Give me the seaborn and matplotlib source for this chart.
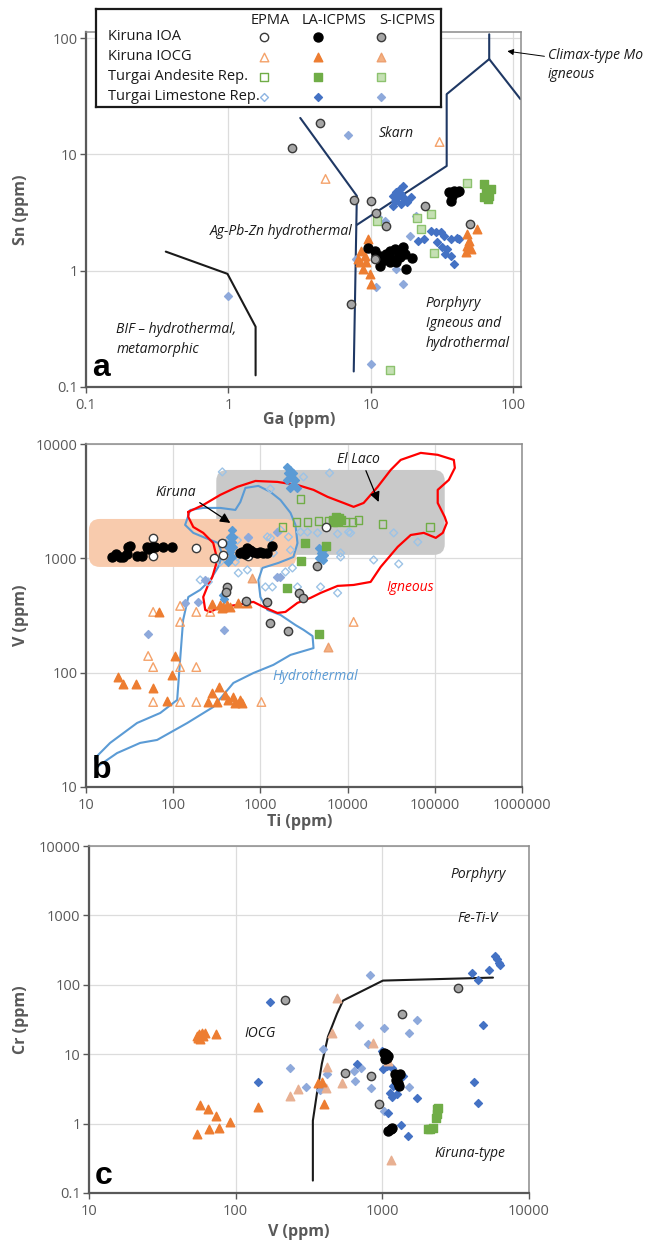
import numpy as np
import matplotlib
matplotlib.use("Agg")
import matplotlib.pyplot as plt
import seaborn as sns
from matplotlib.patches import FancyBboxPatch
from matplotlib.ticker import FixedLocator, FuncFormatter, NullLocator

sns.set_theme(style="white")
plt.rcParams['font.family'] = ['Open Sans', 'DejaVu Sans']

# ---------------- Panel a : Ga vs Sn ----------------
a_ioa_s_x = [2.8, 4.42, 7.57, 10.0, 10.8, 12.8, 23.8, 49.5, 10.7, 7.2]
a_ioa_s_y = [11.4, 18.6, 4.07, 3.99, 3.15, 2.43, 3.61, 2.53, 1.27, 0.52]
a_ioa_la_x = [9.53, 10.7, 11.6, 12.2, 12.8, 13.6, 14.8, 15.5, 16.9, 17.4, 16.1, 14.3, 13.6, 11.8, 11.6,
              17.7, 19.5, 15.0, 10.8, 35.2, 38.2, 41.4, 36.9, 36.2, 40.0]
a_ioa_la_y = [1.57, 1.49, 1.35, 1.27, 1.40, 1.49, 1.54, 1.49, 1.61, 1.40, 1.32, 1.27, 1.19, 1.19, 1.10,
              1.04, 1.29, 1.19, 1.35, 4.77, 4.86, 4.86, 4.40, 3.99, 4.77]
a_iocg_la_x = [9.53, 8.5, 9.06, 9.2, 8.77, 9.84, 10.0, 8.4, 8.09, 47.2, 48.7, 47.2, 50.4, 55.6, 46.4]
a_iocg_la_y = [1.88, 1.49, 1.35, 1.19, 1.04, 0.94, 0.77, 1.19, 1.27, 2.08, 1.81, 1.64, 1.54, 2.29, 1.46]
a_iocg_epma_x = [4.8, 30.3]
a_iocg_epma_y = [6.16, 12.8]
a_and_la_x = [62.3, 64.4, 65.9, 69.8, 67.3, 62.3]
a_and_la_y = [5.58, 4.86, 4.15, 5.06, 4.40, 4.32]
a_and_s_x = [47.2, 26.2, 21.2, 22.6, 27.5, 11.0, 13.6]
a_and_s_y = [5.69, 3.09, 2.85, 2.29, 1.43, 2.69, 0.141]
a_lim_la_x = [16.9, 16.1, 15.0, 14.3, 15.5, 16.3, 14.8, 17.4, 16.3, 14.3, 18.0, 19.2,
              26.2, 28.4, 30.8, 32.4, 36.3, 40.1, 28.9, 31.3, 34.0, 33.3, 36.3, 38.2, 23.4, 21.5, 41.4]
a_lim_la_y = [5.37, 5.06, 4.77, 4.40, 4.32, 4.58, 3.99, 4.15, 3.76, 3.61, 3.91, 4.32,
              2.20, 2.16, 2.16, 2.0, 1.88, 1.92, 1.77, 1.61, 1.54, 1.40, 1.35, 1.15, 1.88, 1.81, 1.88]
a_lim_s_x = [6.87, 11.2, 12.6, 20.8, 18.9, 15.0, 16.9, 10.8, 7.83, 1.0, 10.0]
a_lim_s_y = [14.7, 2.91, 2.69, 2.97, 2.0, 1.04, 0.77, 0.73, 1.27, 0.61, 0.159]

a_line1_x = [3.19, 7.96, 7.57]
a_line1_y = [20.6, 4.40, 0.136]
a_line2_x = [7.96, 34.0, 34.0, 67.6, 67.6]
a_line2_y = [2.48, 7.96, 33.0, 66.1, 108]
a_line3_x = [67.6, 112]
a_line3_y = [66.1, 29.9]
a_bif_x = [0.363, 0.984, 1.55, 1.55]
a_bif_y = [1.46, 0.94, 0.33, 0.126]

# ---------------- Panel b : Ti vs V ----------------
b_ioa_la_x = [19.9, 22.1, 24.6, 26.6, 29.6, 30.4, 32.1, 38.5, 44.0, 50.2, 51.6, 57.4, 62.1, 76.7, 97.4,
              589, 621, 673, 709, 767, 831, 924, 1000, 1082, 1202, 1371]
b_ioa_la_y = [1028, 1091, 1028, 1028, 1091, 1260, 1283, 1049, 1049, 1260, 1207, 1260, 1260, 1260, 1260,
              1115, 1137, 1091, 1233, 1183, 1137, 1115, 1137, 1115, 1115, 1283]
b_ioa_epma_x = [58.9, 58.9, 58.9, 184, 296, 366, 376, 728, 5580]
b_ioa_epma_y = [1507, 1049, 1283, 1233, 1007, 1360, 1072, 1049, 1883]
b_ioa_s_x = [418, 407, 690, 1202, 1303, 2099, 2735, 3119, 4403]
b_ioa_s_y = [562, 508, 424, 416, 272, 232, 498, 451, 859]
b_iocg_la_x = [23.3, 26.6, 37.6, 58.9, 85.3, 105, 97.4, 281, 338, 253, 321, 396, 429, 490, 516, 589, 621,
               69, 347, 376, 418, 452, 558, 709, 281, 366]
b_iocg_la_y = [91.7, 79.6, 79.6, 73.5, 56.5, 140, 95.5, 66.4, 75.0, 55.4, 55.4, 63.8, 57.7, 61.2, 54.3, 57.7, 54.3,
               340, 391, 376, 391, 376, 408, 408, 399, 368]
b_iocg_epma_x = [58.9, 51.6, 58.9, 58.9, 120, 120, 120, 120, 184, 184, 184, 1026, 266, 11720]
b_iocg_epma_y = [340, 140, 112, 55.4, 384, 278, 112, 55.4, 340, 112, 55.4, 55.4, 340, 278]
b_iocg_s_x = [800, 5891]
b_iocg_s_y = [674, 167]
b_and_la_x = [6730, 7280, 7870, 6890, 7600, 8318, 4650, 2042, 3205, 2958, 5580]
b_and_la_y = [2168, 2300, 2254, 2080, 2080, 2168, 218, 551, 1360, 948, 1283]
b_and_epma_x = [2884, 2594, 3467, 4650, 9480, 11400, 13370, 1790, 25230, 87700, 6050]
b_and_epma_y = [3311, 2080, 2080, 2122, 2080, 2080, 2168, 1883, 2000, 1883, 2122]
b_lim_la_x = [477, 452, 477, 429, 490, 452, 477, 429, 452, 396, 490,
              2042, 2213, 2099, 2393, 2330, 2523, 2042, 2393, 2213, 2663,
              4650, 5160, 4895, 5300, 4650, 5160, 385, 376]
b_lim_la_y = [1773, 1540, 1390, 1260, 1260, 1137, 1028, 931, 1360, 1360, 1540,
              6310, 5930, 5580, 5580, 5050, 4850, 4850, 4380, 4130, 4130,
              1233, 1183, 1115, 1072, 1007, 968, 442, 479]
b_lim_s_x = [51.6, 385, 137, 194, 233, 728, 1530, 1567, 1698]
b_lim_s_y = [218, 237, 408, 416, 647, 1540, 1700, 688, 688]
b_lim_epma_x = [366, 3119, 6210, 1303, 728, 1303, 1698, 2099, 2884, 3467, 4520, 7680, 10260, 638, 1410,
                2213, 558, 709, 1141, 1371, 2663, 4895, 7680, 8318, 516, 347, 253, 10820, 19900, 33800,
                63800, 38550, 8318, 1938, 2330, 544, 544, 1202, 204]
b_lim_epma_y = [5700, 5150, 5580, 4050, 1507, 1507, 1773, 1540, 1700, 1700, 1670, 1637, 1700, 1137, 1115,
                1183, 745, 792, 562, 562, 562, 562, 498, 1028, 931, 931, 622, 1670, 968, 1670,
                1390, 893, 1115, 760, 824, 1028, 1440, 1540, 647]

b_ign_x = [149, 221, 347, 544, 877, 1567, 2663, 4067, 5891, 9000, 11720, 15270, 22130, 31200, 40650,
           69000, 108000, 165300, 169800, 144800, 108000, 108000, 130000, 137300, 123500, 102600, 74800,
           53000, 37560, 23950, 18370, 11720, 7679, 4895, 3758, 2663, 1938, 1567, 1082, 831, 544, 347,
           266, 233, 221, 246, 281, 321, 288, 221, 170, 149]
b_ign_y = [2550, 2930, 3590, 4220, 4750, 4660, 4380, 3970, 3450, 3050, 2820, 3050, 4220, 5930, 7260,
           8360, 8040, 7260, 6180, 4850, 3970, 3050, 2300, 2040, 1670, 1510, 1670,
           1600, 1260, 841, 622, 585, 574, 498, 451, 408, 340, 333, 376, 416, 391, 376,
           340, 354, 459, 562, 688, 968, 1360, 1670, 1880, 2300]
b_hyd_x = [12.7, 18.9, 38.5, 71, 111, 120, 130, 149, 204, 266, 329, 366, 329, 233, 170, 137, 157, 221, 347,
           516, 589, 673, 948, 1303, 1698, 2213, 2523, 2663, 2393, 1610, 1054, 948, 1000, 1202, 1698, 2523,
           3119, 3963, 4067, 2213, 1409, 831, 490, 288, 145, 65.4, 41.8, 22.7, 13.4]
b_hyd_y = [17.9, 24.3, 36.3, 44.4, 57.7, 129, 289, 459, 530, 647, 841, 1072, 1360, 1510, 1670, 1960, 2650,
           2760, 2760, 2650, 3110, 4130, 4300, 3810, 3240, 2500, 1960, 1360, 1028, 912, 824, 647, 459, 354,
           320, 261, 237, 209, 164, 143, 117, 99.3, 81.3, 50.1, 36.3, 25.8, 24.3, 19.8, 15.0]
b_box_kiruna_x = [10.8, 2590]
b_box_kiruna_y = [841, 2210]
b_box_laco_x = [312, 130000]
b_box_laco_y = [1072, 5930]

# ---------------- Panel c : V vs Cr ----------------
c_iocg_la_x = [54.5, 56.2, 58.9, 61.8, 57.1, 55.3, 59.8, 73.4, 57.1, 64.7, 73.4, 91.4, 76.9, 65.8, 54.5,
               142, 400, 364, 387]
c_iocg_la_y = [18.5, 19.8, 20.5, 20.5, 16.8, 17.3, 18.5, 19.8, 1.88, 1.64, 1.30, 1.07, 0.875, 0.847, 0.718,
               1.76, 1.94, 3.90, 4.03]
c_iocg_s_x = [491, 453, 863, 419, 530, 413, 266, 235, 1146, 1092]
c_iocg_s_y = [65.4, 20.5, 14.7, 6.63, 3.90, 3.30, 3.19, 2.53, 0.303, 8.09]
c_ioa_la_x = [1026, 1059, 1075, 1092, 1042, 1219, 1259, 1277, 1297, 1239, 1318, 1092, 1146, 1162]
c_ioa_la_y = [10.5, 10.2, 8.93, 9.55, 8.64, 5.25, 4.60, 3.90, 3.53, 4.31, 5.25, 0.793, 0.847, 0.875]
c_ioa_s_x = [217, 1361, 556, 835, 948, 3273]
c_ioa_s_y = [61.2, 38.5, 5.43, 4.92, 1.94, 91.2]
c_and_la_x = [2355, 2355, 2317, 2213, 2110, 2046, 2393]
c_and_la_y = [1.64, 1.39, 1.22, 0.875, 0.847, 0.847, 1.70]
c_lim_la_x = [171, 142, 4080, 4490, 5330, 5860, 6040, 6240, 6340, 4850, 4210, 4490, 993, 1009, 1075, 1162,
              1127, 1162, 1259, 1340, 1496, 1722, 1092, 1381, 1277, 1180, 671]
c_lim_la_y = [57.3, 4.03, 150, 119, 166, 264, 239, 209, 196, 26.7, 4.03, 2.01, 11.3, 6.21, 6.85, 6.41,
              2.80, 2.45, 2.71, 0.968, 0.671, 2.37, 1.44, 4.92, 4.92, 3.53, 7.32]
c_lim_s_x = [823, 692, 1026, 1517, 1722, 798, 394, 714, 640, 650, 835, 1026, 1517, 419, 387, 234, 301, 376]
c_lim_s_y = [140, 26.7, 24.2, 20.5, 31.5, 14.2, 12.0, 6.41, 5.80, 4.17, 3.30, 1.54, 3.41, 5.25, 3.53, 6.41,
             3.41, 3.09]
c_line_x = [336, 336, 358, 387, 426, 491, 539, 1009, 5680]
c_line_y = [0.151, 1.10, 2.71, 7.32, 17.9, 38.5, 59.2, 115, 127]

# ---------------- legend text ----------------
legend_rows = ["Kiruna IOA", "Kiruna IOCG", "Turgai Andesite Rep.", "Turgai Limestone Rep."]
legend_cols = ["EPMA", "LA-ICPMS", "S-ICPMS"]

# ---------------- styles ----------------
ST = {
    ('ioa', 'epma'): dict(marker='o', fc='white', ec='#3a3a3a', s=36),
    ('ioa', 'la'): dict(marker='o', fc='black', ec='black', s=42),
    ('ioa', 's'): dict(marker='o', fc='#a6a6a6', ec='#3a3a3a', s=36),
    ('iocg', 'epma'): dict(marker='^', fc='none', ec='#F4A26A', s=38),
    ('iocg', 'la'): dict(marker='^', fc='#ED7D31', ec='#ED7D31', s=38),
    ('iocg', 's'): dict(marker='^', fc='#F4B183', ec='#EDA070', s=38),
    ('and', 'epma'): dict(marker='s', fc='none', ec='#70AD47', s=28),
    ('and', 'la'): dict(marker='s', fc='#70AD47', ec='#70AD47', s=28),
    ('and', 's'): dict(marker='s', fc='#C5E0B4', ec='#8DC26F', s=28),
    ('lim', 'epma'): dict(marker='D', fc='none', ec='#8DB4E2', s=16),
    ('lim', 'la'): dict(marker='D', fc='#4472C4', ec='#4472C4', s=16),
    ('lim', 's'): dict(marker='D', fc='#8EA9DB', ec='#8EA9DB', s=16),
}


def pts(ax, xs, ys, key, z=4, override=None):
    st = dict(ST[key])
    if override:
        st.update(override)
    sns.scatterplot(x=xs, y=ys, ax=ax, marker=st['marker'], color=st['ec'],
                    facecolor=st['fc'], edgecolor=st['ec'], s=st['s'],
                    linewidth=1.0, legend=False, zorder=z, clip_on=True)


W, H = 664, 1243
fig = plt.figure(figsize=(W / 100, H / 100), dpi=100)
fig.patch.set_facecolor('white')


def px_axes(l, t, r, b):
    return fig.add_axes([l / W, 1 - b / H, (r - l) / W, (b - t) / H])


GRAY = '#595959'


def fmt(v, _):
    s = ('%f' % v).rstrip('0').rstrip('.')
    return s


def style_axes(ax, xlim, ylim, xt, yt, xlabel, ylabel, xlc, ylc):
    ax.set_xscale('log')
    ax.set_yscale('log')
    ax.set_xlim(*xlim)
    ax.set_ylim(*ylim)
    ax.xaxis.set_major_locator(FixedLocator(xt))
    ax.yaxis.set_major_locator(FixedLocator(yt))
    ax.xaxis.set_minor_locator(NullLocator())
    ax.yaxis.set_minor_locator(NullLocator())
    ax.xaxis.set_major_formatter(FuncFormatter(fmt))
    ax.yaxis.set_major_formatter(FuncFormatter(fmt))
    ax.tick_params(axis='both', which='major', bottom=True, left=True, top=False, right=False,
                   direction='out', length=4, width=1, colors=GRAY, labelsize=10.5)
    ax.tick_params(axis='x', pad=4)
    ax.tick_params(axis='y', pad=2)
    ax.grid(True, which='major', color='#dcdcdc', lw=0.9)
    ax.set_axisbelow(True)
    for name, sp in ax.spines.items():
        sp.set_visible(True)
        if name in ('left', 'bottom'):
            sp.set_color(GRAY)
            sp.set_linewidth(1.6)
        else:
            sp.set_color('#8c8c8c')
            sp.set_linewidth(1.1)
    ax.set_xlabel(xlabel, fontsize=11.5, fontweight='bold', color=GRAY)
    ax.set_ylabel(ylabel, fontsize=11.5, fontweight='bold', color=GRAY)
    ax.xaxis.set_label_coords(*xlc)
    ax.yaxis.set_label_coords(*ylc)
    ax.xaxis.label.set_va('center')
    ax.yaxis.label.set_va('center')
    ax.set_facecolor('white')


ITAL = dict(style='italic', fontsize=10, color='#1a1a1a')
LETTER = dict(fontsize=23, fontweight='bold', family=['Liberation Sans', 'DejaVu Sans'], color='black')
ARROW = dict(arrowstyle='-|>', color='black', lw=0.9, mutation_scale=15, shrinkA=0, shrinkB=0)

# ================= Panel a =================
axa = px_axes(86, 32, 521, 387)
style_axes(axa, (0.1, 113), (0.1, 113), [0.1, 1, 10, 100], [0.1, 1, 10, 100],
           'Ga (ppm)', 'Sn (ppm)', (0.49, -0.093), (-0.149, 0.499))
axa.plot(a_line1_x, a_line1_y, color='#1F3864', lw=1.5, zorder=2)
axa.plot(a_line2_x, a_line2_y, color='#1F3864', lw=1.5, zorder=2)
axa.plot(a_line3_x, a_line3_y, color='#1F3864', lw=1.5, zorder=2)
axa.plot(a_bif_x, a_bif_y, color='#1a1a1a', lw=1.5, zorder=2)

pts(axa, a_lim_s_x, a_lim_s_y, ('lim', 's'))
pts(axa, a_lim_la_x, a_lim_la_y, ('lim', 'la'))
pts(axa, a_and_s_x, a_and_s_y, ('and', 's'))
pts(axa, a_and_la_x, a_and_la_y, ('and', 'la'))
pts(axa, a_iocg_epma_x, a_iocg_epma_y, ('iocg', 'epma'))
pts(axa, a_iocg_la_x, a_iocg_la_y, ('iocg', 'la'))
pts(axa, a_ioa_la_x, a_ioa_la_y, ('ioa', 'la'))
pts(axa, a_ioa_s_x, a_ioa_s_y, ('ioa', 's'))

axa.text(15.0, 15.0, 'Skarn', ha='center', va='center', **ITAL)
axa.text(7.45, 2.16, 'Ag-Pb-Zn hydrothermal', ha='right', va='center', **ITAL)
axa.text(24.2, 0.61, 'Porphyry\nIgneous and\nhydrothermal', ha='left', va='top', linespacing=1.45, **ITAL)
axa.text(0.163, 0.365, 'BIF \u2013 hydrothermal,\nmetamorphic', ha='left', va='top', linespacing=1.45, **ITAL)
axa.annotate('Climax-type Mo\nigneous', xy=(90.6, 77.3), xytext=(174, 58.7), ha='left', va='center',
             linespacing=1.3, annotation_clip=False,
             arrowprops=dict(ARROW, relpos=(0, 0.75), lw=0.7, mutation_scale=9), **ITAL)
axa.text(0.014, 0.01, 'a', transform=axa.transAxes, ha='left', va='bottom', **LETTER)

# legend box (figure overlay)
leg = px_axes(96, 9, 441, 107)
leg.set_xlim(96, 441)
leg.set_ylim(107, 9)
leg.set_xticks([])
leg.set_yticks([])
leg.set_facecolor('white')
for sp in leg.spines.values():
    sp.set_visible(True)
    sp.set_color('#1a1a1a')
    sp.set_linewidth(1.6)
col_hdr_x = [270, 334, 407]
col_mk_x = [264, 318, 381]
row_y = [37, 57, 77, 97]
groups = ['ioa', 'iocg', 'and', 'lim']
methods = ['epma', 'la', 's']
for cx, name in zip(col_hdr_x, legend_cols):
    leg.text(cx, 21, name, ha='center', va='center', fontsize=10.5, color='#1a1a1a')
for ry, name, g in zip(row_y, legend_rows, groups):
    leg.text(108, ry, name, ha='left', va='center', fontsize=10.5, color='#1a1a1a')
    for mx, m in zip(col_mk_x, methods):
        pts(leg, [mx], [ry], (g, m), override={'fc': 'white'} if ST[(g, m)]['fc'] == 'none' else None)

# ================= Panel b =================
axb = px_axes(86, 444, 522, 787)
style_axes(axb, (10, 1e6), (10, 1e4), [10, 100, 1000, 1e4, 1e5, 1e6], [10, 100, 1000, 1e4],
           'Ti (ppm)', 'V (ppm)', (0.489, -0.102), (-0.149, 0.501))


def rbox(ax, bx, by, color, z):
    fx = (np.log10(bx) - 1) / 5
    fy = (np.log10(by) - 1) / 3
    p = FancyBboxPatch((fx[0], fy[0]), fx[1] - fx[0], fy[1] - fy[0],
                       boxstyle='round,pad=0,rounding_size=0.025', mutation_aspect=436 / 343,
                       transform=ax.transAxes, facecolor=color, edgecolor='none', zorder=z)
    ax.add_patch(p)


rbox(axb, b_box_laco_x, b_box_laco_y, '#c9c9c9', 1)
rbox(axb, b_box_kiruna_x, b_box_kiruna_y, '#f8cbad', 1.1)
axb.plot(b_hyd_x + b_hyd_x[:1], b_hyd_y + b_hyd_y[:1], color='#5B9BD5', lw=1.5, zorder=2)
axb.plot(b_ign_x + b_ign_x[:1], b_ign_y + b_ign_y[:1], color='#FF0000', lw=1.6, zorder=2.1)

pts(axb, b_lim_epma_x, b_lim_epma_y, ('lim', 'epma'), override={'ec': '#9DC3E6'})
pts(axb, b_lim_s_x, b_lim_s_y, ('lim', 's'))
pts(axb, b_lim_la_x, b_lim_la_y, ('lim', 'la'), override={'fc': '#5B9BD5', 'ec': '#5B9BD5'})
pts(axb, b_and_epma_x, b_and_epma_y, ('and', 'epma'))
pts(axb, b_and_la_x, b_and_la_y, ('and', 'la'))
pts(axb, b_iocg_epma_x, b_iocg_epma_y, ('iocg', 'epma'))
pts(axb, b_iocg_s_x, b_iocg_s_y, ('iocg', 's'))
pts(axb, b_iocg_la_x, b_iocg_la_y, ('iocg', 'la'))
pts(axb, b_ioa_s_x, b_ioa_s_y, ('ioa', 's'))
pts(axb, b_ioa_epma_x, b_ioa_epma_y, ('ioa', 'epma'))
pts(axb, b_ioa_la_x, b_ioa_la_y, ('ioa', 'la'))

axb.annotate('Kiruna', xy=(452, 2040), xytext=(108, 3730), ha='center', va='center',
             arrowprops=dict(ARROW, relpos=(1, 0)), zorder=6, **ITAL)
axb.annotate('El Laco', xy=(22700, 3110), xytext=(13370, 7260), ha='center', va='center',
             arrowprops=dict(ARROW, relpos=(0.64, 0)), zorder=6, **ITAL)
axb.text(51600, 551, 'Igneous', ha='center', va='center', style='italic', fontsize=10, color='#FF0000')
axb.text(4290, 91.7, 'Hydrothermal', ha='center', va='center', style='italic', fontsize=10, color='#5B9BD5')
axb.text(0.014, 0.005, 'b', transform=axb.transAxes, ha='left', va='bottom', **LETTER)

# ================= Panel c =================
axc = px_axes(89, 846, 529, 1193)
style_axes(axc, (10, 1e4), (0.1, 1e4), [10, 100, 1000, 1e4], [0.1, 1, 10, 100, 1000, 1e4],
           'V (ppm)', 'Cr (ppm)', (0.477, -0.112), (-0.155, 0.499))
axc.plot(c_line_x, c_line_y, color='#1a1a1a', lw=1.5, zorder=2)

pts(axc, c_lim_s_x, c_lim_s_y, ('lim', 's'))
pts(axc, c_lim_la_x, c_lim_la_y, ('lim', 'la'))
pts(axc, c_and_la_x, c_and_la_y, ('and', 'la'))
pts(axc, c_iocg_s_x, c_iocg_s_y, ('iocg', 's'), override={'fc': '#E8B092', 'ec': '#E8B092'})
pts(axc, c_iocg_la_x, c_iocg_la_y, ('iocg', 'la'))
pts(axc, c_ioa_s_x, c_ioa_s_y, ('ioa', 's'))
pts(axc, c_ioa_la_x, c_ioa_la_y, ('ioa', 'la'))

axc.text(4490, 3870, 'Porphyry', ha='center', va='center', **ITAL)
axc.text(4490, 899, 'Fe-Ti-V', ha='center', va='center', **ITAL)
axc.text(3950, 0.370, 'Kiruna-type', ha='center', va='center', **ITAL)
axc.text(146, 19.8, 'IOCG', ha='center', va='center', **ITAL)
axc.text(0.014, 0.005, 'c', transform=axc.transAxes, ha='left', va='bottom', **LETTER)

fig.savefig('out.png', dpi=100, facecolor='white')
